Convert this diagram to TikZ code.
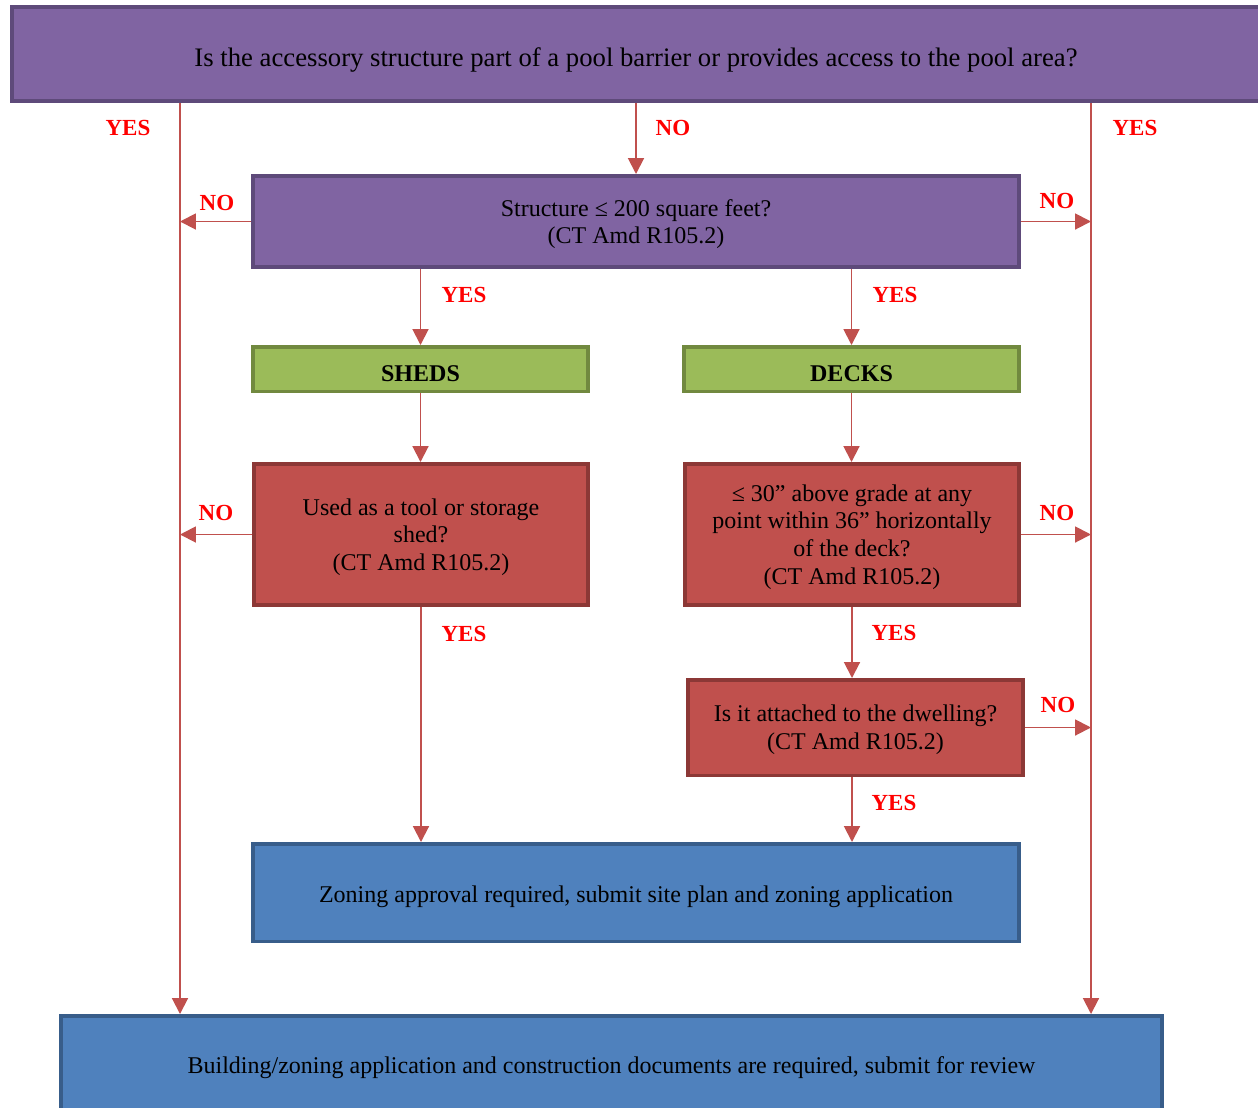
\documentclass[tikz,border=0pt]{standalone}
\usepackage{fontspec}
\setmainfont{Liberation Serif}
\usetikzlibrary{arrows.meta}

\definecolor{qpurple}{HTML}{8064A2}
\definecolor{qpurpledark}{HTML}{5E4A7A}
\definecolor{qgreen}{HTML}{9BBB59}
\definecolor{qgreendark}{HTML}{71893F}
\definecolor{qred}{HTML}{C0504D}
\definecolor{qreddark}{HTML}{8C3836}
\definecolor{qblue}{HTML}{4F81BD}
\definecolor{qbluedark}{HTML}{385D8A}

\begin{document}
\begin{tikzpicture}[
        x=0.02cm, y=-0.02cm,
        box/.style={shape=rectangle, draw, line width=2pt, align=center, inner sep=0pt, font=\fontsize{13.66}{15.8}\selectfont,
            execute at begin node={\rule{0pt}{14pt}}},
        multiline/.style={text depth=-1pt},
        purplebox/.style={box, fill=qpurple, draw=qpurpledark},
        greenbox/.style={box, fill=qgreen, draw=qgreendark, font=\fontsize{13.66}{15.8}\selectfont\bfseries},
        redbox/.style={box, fill=qred, draw=qreddark},
        bluebox/.style={box, fill=qblue, draw=qbluedark},
        flow/.style={draw=qred, line width=1.1pt, -{Triangle[length=9pt, width=9pt]}},
        yesno/.style={text=red, font=\fontsize{13.1}{15}\selectfont\bfseries}
    ]

        \useasboundingbox (0,0) rectangle (1258,1107);

        % boxes
        \node[purplebox, minimum width=24.97cm, minimum height=1.89cm, font=\fontsize{15.2}{17.5}\selectfont,
            execute at begin node={\rule{0pt}{17.5pt}}] (pool) at (636,54)
            {Is the accessory structure part of a pool barrier or provides access to the pool area?};
        \node[purplebox, multiline, minimum width=15.33cm, minimum height=1.83cm] (size) at (636,221.5)
            {Structure ≤ 200 square feet?\\(CT Amd R105.2)};
        \node[greenbox, minimum width=6.71cm, minimum height=0.89cm] (sheds) at (420.5,369) {SHEDS};
        \node[greenbox, minimum width=6.71cm, minimum height=0.89cm] (decks) at (851.5,369) {DECKS};
        \node[redbox, multiline, minimum width=6.69cm, minimum height=2.83cm] (tool) at (421,534.5)
            {Used as a tool or storage\\shed?\\(CT Amd R105.2)};
        \node[redbox, multiline, minimum width=6.69cm, minimum height=2.83cm] (grade) at (852,534.5)
            {≤ 30” above grade at any\\point within 36” horizontally\\of the deck?\\(CT Amd R105.2)};
        \node[redbox, multiline, minimum width=6.71cm, minimum height=1.91cm] (attach) at (855.5,727.5)
            {Is it attached to the dwelling?\\(CT Amd R105.2)};
        \node[bluebox, minimum width=15.33cm, minimum height=1.95cm] (zoning) at (636,892.5)
            {Zoning approval required, submit site plan and zoning application};
        \node[bluebox, minimum width=22.03cm, minimum height=1.93cm] (permit) at (611.5,1064)
            {Building/zoning application and construction documents are required, submit for review};

        % side lines
        \coordinate (lft) at (180,0);
        \coordinate (rgt) at (1091,0);

        % connectors
        \draw[flow] (pool.south -| lft) -- (permit.north -| lft);
        \draw[flow] (pool.south -| rgt) -- (permit.north -| rgt);
        \draw[flow] (pool.south) -- (size.north);
        \draw[flow] (size.west) -- (size.west -| lft);
        \draw[flow] (size.east) -- (size.east -| rgt);
        \draw[flow] (sheds.north |- size.south) -- (sheds.north);
        \draw[flow] (decks.north |- size.south) -- (decks.north);
        \draw[flow] (sheds.south) -- (tool.north -| sheds.south);
        \draw[flow] (decks.south) -- (grade.north -| decks.south);
        \draw[flow] (tool.west) -- (tool.west -| lft);
        \draw[flow] (grade.east) -- (grade.east -| rgt);
        \draw[flow] (tool.south) -- (zoning.north -| tool.south);
        \draw[flow] (grade.south) -- (attach.north -| grade.south);
        \draw[flow] (attach.east) -- (attach.east -| rgt);
        \draw[flow] (attach.south -| grade.south) -- (zoning.north -| grade.south);

        % answers
        \node[yesno] (poolyesl) at (128,128) {YES};
        \node[yesno] (poolno) at (673,128) {NO};
        \node[yesno] (poolyesr) at (1135,128) {YES};
        \node[yesno] (sizenol) at (217,203) {NO};
        \node[yesno] (sizenor) at (1057,201) {NO};
        \node[yesno] (sizeyesl) at (464,295) {YES};
        \node[yesno] (sizeyesr) at (895,295) {YES};
        \node[yesno] (toolno) at (216,513) {NO};
        \node[yesno] (gradeno) at (1057,513) {NO};
        \node[yesno] (toolyes) at (464,634) {YES};
        \node[yesno] (gradeyes) at (894,633) {YES};
        \node[yesno] (attachno) at (1058,705) {NO};
        \node[yesno] (attachyes) at (894,803) {YES};

    \end{tikzpicture}
\end{document}
